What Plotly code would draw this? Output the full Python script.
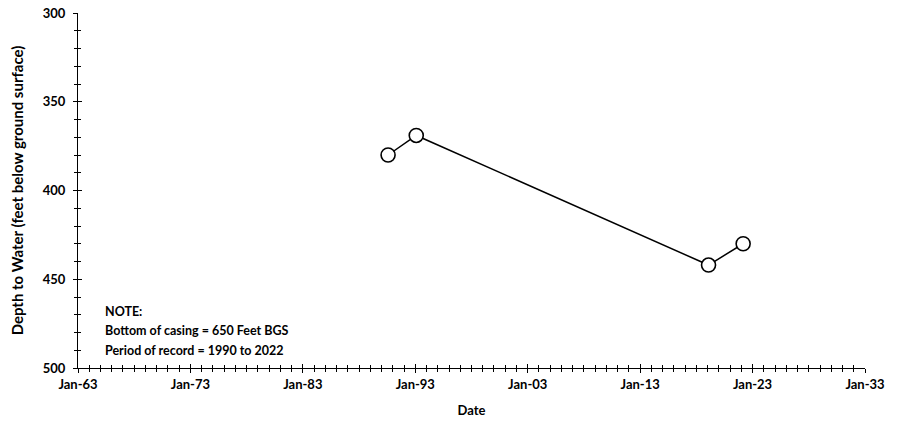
import plotly.graph_objects as go

# Water level measurements
dates = ["1990-08-01", "1993-02-01", "2019-02-01", "2022-03-01"]
depth_ft = [380, 369, 442, 430]

note_lines = [
    "NOTE:",
    "Bottom of casing = 650 Feet BGS",
    "Period of record = 1990 to 2022",
]
note_y = [468, 479, 490]

FONT = "Lato"
X_RANGE = ["1963-01-01", "2033-01-01"]
Y_RANGE = [500, 300]

fig = go.Figure()
fig.add_trace(go.Scatter(
    x=dates, y=depth_ft, mode="lines+markers",
    line=dict(color="black", width=1.5),
    marker=dict(symbol="circle", size=14, color="white",
                line=dict(color="black", width=1.6)),
    showlegend=False, cliponaxis=False,
))

for txt, yy in zip(note_lines, note_y):
    fig.add_annotation(
        x=0.032, xref="paper", y=yy, yref="y", text=txt, showarrow=False,
        xanchor="left", yanchor="middle",
        font=dict(family=FONT, size=12.5, color="black", weight="bold"),
    )

fig.update_layout(
    width=905, height=423,
    margin=dict(l=78, r=40, t=13, b=55),
    paper_bgcolor="white", plot_bgcolor="white",
    font=dict(family=FONT, color="black"),
)

tick_font = dict(family=FONT, size=13, color="black", weight="bold")
title_font = dict(family=FONT, size=13, color="black", weight="bold")

fig.update_xaxes(
    type="date", range=X_RANGE, automargin=False,
    tick0="1963-01-01", dtick="M120", tickformat="%b-%y",
    showgrid=False, zeroline=False,
    showline=True, linecolor="black", linewidth=1,
    ticks="outside", ticklen=4, tickcolor="black",
    minor=dict(dtick="M12", ticks="outside", ticklen=3, tickcolor="black", showgrid=False),
    tickfont=tick_font,
    title=dict(text="Date", font=title_font),
)

fig.update_yaxes(
    range=Y_RANGE, tick0=300, dtick=50, automargin=False,
    showgrid=False, zeroline=False,
    showline=True, linecolor="black", linewidth=1,
    ticks="outside", ticklen=4, tickcolor="black", ticklabelstandoff=5,
    minor=dict(dtick=10, ticks="outside", ticklen=3, tickcolor="black", showgrid=False),
    tickfont=tick_font,
    title=dict(text="Depth to Water (feet below ground surface)",
               font=dict(family=FONT, size=15, color="black", weight="bold")),
)

# Overlay axes carrying inside ticks so the tick marks cross the axis lines
fig.update_layout(
    xaxis2=dict(
        type="date", range=X_RANGE, overlaying="x", side="bottom", anchor="y",
        tick0="1963-01-01", dtick="M120", showticklabels=False, automargin=False,
        showgrid=False, zeroline=False, showline=False,
        ticks="inside", ticklen=4, tickcolor="black",
        minor=dict(dtick="M12", ticks="inside", ticklen=3, tickcolor="black", showgrid=False),
    ),
    yaxis2=dict(
        range=Y_RANGE, overlaying="y", side="left", anchor="x",
        tick0=300, dtick=50, showticklabels=False, automargin=False,
        showgrid=False, zeroline=False, showline=False,
        ticks="inside", ticklen=4, tickcolor="black",
        minor=dict(dtick=10, ticks="inside", ticklen=3, tickcolor="black", showgrid=False),
    ),
)
fig.add_trace(go.Scatter(x=[None], y=[None], xaxis="x2", yaxis="y2",
                         showlegend=False, hoverinfo="skip"))

fig.write_html("out.html")
